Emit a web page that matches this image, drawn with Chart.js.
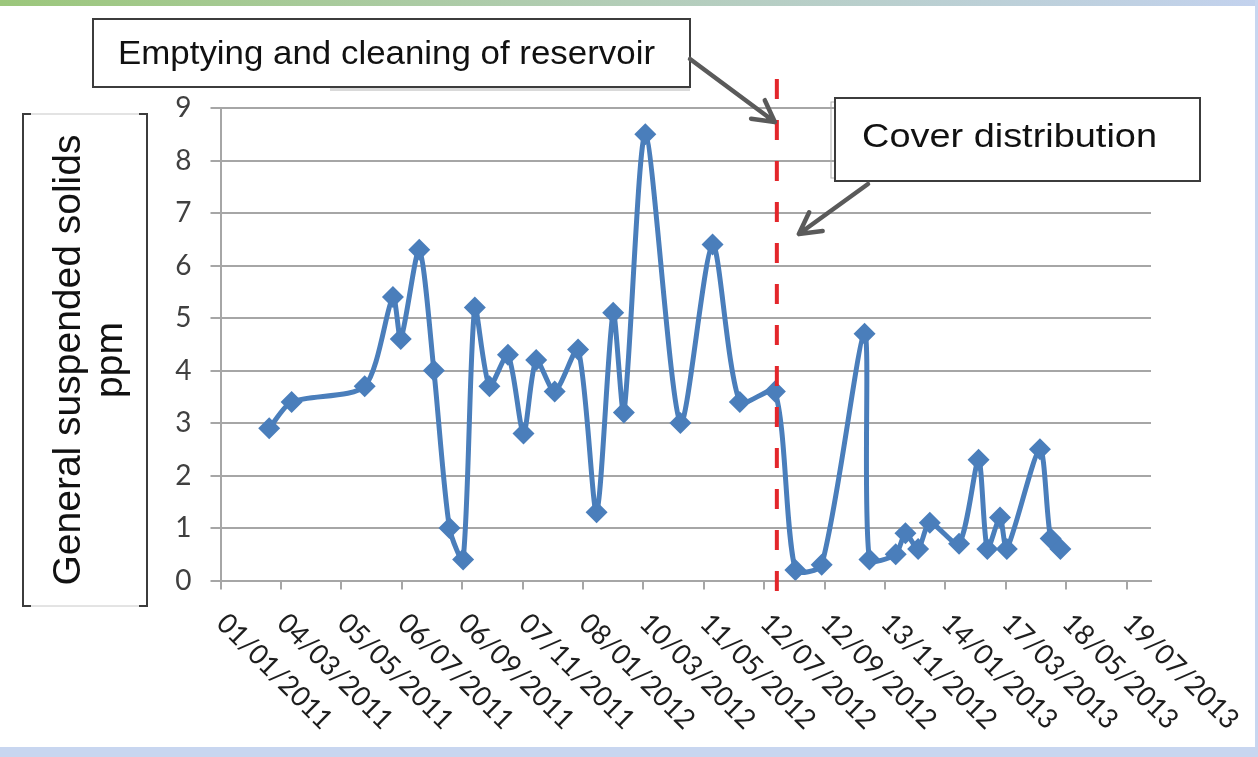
<!DOCTYPE html>
<html>
<head>
<meta charset="utf-8">
<title>General suspended solids</title>
<script src="https://cdn.jsdelivr.net/npm/chart.js@4.4.1/dist/chart.umd.min.js"></script>
<style>
  html, body { margin: 0; padding: 0; background: #ffffff; }
  #chart { display: block; }
</style>
</head>
<body>
<canvas id="chart" width="1258" height="757"></canvas>
<script>
// sampling dates and suspended solids readings (ppm)
const sampleDates = [
    '2011-02-20', '2011-03-15', '2011-05-29', '2011-06-27', '2011-07-05',
    '2011-07-24', '2011-08-08', '2011-08-24', '2011-09-07', '2011-09-19',
    '2011-10-04', '2011-10-23', '2011-11-08', '2011-11-21', '2011-12-10',
    '2012-01-03', '2012-01-22', '2012-02-08', '2012-02-19', '2012-03-12',
    '2012-04-17', '2012-05-20', '2012-06-17', '2012-07-23', '2012-08-13',
    '2012-09-09', '2012-10-23', '2012-10-28', '2012-11-24', '2012-12-04',
    '2012-12-17', '2012-12-29', '2013-01-28', '2013-02-17', '2013-02-26',
    '2013-03-11', '2013-03-18', '2013-04-21', '2013-05-02', '2013-05-12'
];
const gssPpm = [
    2.9, 3.4, 3.7, 5.4, 4.6, 6.3, 4.0, 1.0, 0.4, 5.2,
    3.7, 4.3, 2.8, 4.2, 3.6, 4.4, 1.3, 5.1, 3.2, 8.5,
    3.0, 6.4, 3.4, 3.6, 0.2, 0.3, 4.7, 0.4, 0.5, 0.9,
    0.6, 1.1, 0.7, 2.3, 0.6, 1.2, 0.6, 2.5, 0.8, 0.6
];
const xTickLabels = [
    '01/01/2011', '04/03/2011', '05/05/2011', '06/07/2011', '06/09/2011',
    '07/11/2011', '08/01/2012', '10/03/2012', '11/05/2012', '12/07/2012',
    '12/09/2012', '13/11/2012', '14/01/2013', '17/03/2013', '18/05/2013',
    '19/07/2013'
];
const axisStart = '2011-01-01';
const tickStepDays = 62;
const axisMaxDays = 955;
const yMin = 0, yMax = 9, yStep = 1;
const interventionDate = '2012-07-25';
const yTitle = ['General suspended solids', 'ppm'];
const noteCleaning = 'Emptying and cleaning of reservoir';
const noteCover = 'Cover distribution';

function toDay(s) {
    const p = s.split('-').map(Number);
    const a = axisStart.split('-').map(Number);
    return (Date.UTC(p[0], p[1] - 1, p[2]) - Date.UTC(a[0], a[1] - 1, a[2])) / 86400000;
}

const points = sampleDates.map((d, i) => ({ x: toDay(d), y: gssPpm[i] }));

const blue = '#4a7ebb';
const gridGray = '#a6a6a6';

// text squeezed/stretched to a given length along its baseline
function fitText(ctx, text, x, y, len) {
    const w = ctx.measureText(text).width;
    ctx.save();
    ctx.translate(x, y);
    ctx.scale(len / w, 1);
    ctx.fillText(text, 0, 0);
    ctx.restore();
}

function arrow(ctx, x1, y1, x2, y2) {
    const a = Math.atan2(y2 - y1, x2 - x1);
    const head = 24, spread = 0.5;
    ctx.save();
    ctx.strokeStyle = '#5a5a5a';
    ctx.lineWidth = 4.5;
    ctx.lineCap = 'round';
    ctx.lineJoin = 'round';
    ctx.beginPath();
    ctx.moveTo(x1, y1);
    ctx.lineTo(x2, y2);
    ctx.moveTo(x2 - head * Math.cos(a - spread), y2 - head * Math.sin(a - spread));
    ctx.lineTo(x2, y2);
    ctx.lineTo(x2 - head * Math.cos(a + spread), y2 - head * Math.sin(a + spread));
    ctx.stroke();
    ctx.restore();
}

const decorPlugin = {
    id: 'decor',
    beforeDraw(chart) {
        const ctx = chart.ctx;
        const W = chart.width, H = chart.height;
        ctx.save();
        ctx.fillStyle = '#ffffff';
        ctx.fillRect(0, 0, W, H);
        const g = ctx.createLinearGradient(0, 0, W, 0);
        g.addColorStop(0, '#9cc77c');
        g.addColorStop(0.5, '#b3cdb8');
        g.addColorStop(1, '#c3d2ee');
        ctx.fillStyle = g;
        ctx.fillRect(0, 0, W, 6);
        ctx.fillStyle = '#c8d6f0';
        ctx.fillRect(0, H - 10, W, 10);
        ctx.fillRect(W - 3, 0, 3, H);
        ctx.restore();
    },
    afterDatasetsDraw(chart) {
        const ctx = chart.ctx;
        const x = chart.scales.x.getPixelForValue(toDay(interventionDate));
        ctx.save();
        ctx.strokeStyle = '#e3262b';
        ctx.lineWidth = 4;
        ctx.setLineDash([20, 21]);
        ctx.beginPath();
        ctx.moveTo(x, chart.chartArea.top - 29);
        ctx.lineTo(x, chart.chartArea.bottom + 20);
        ctx.stroke();
        ctx.restore();
    },
    afterDraw(chart) {
        const ctx = chart.ctx;
        const xs = chart.scales.x;
        const area = chart.chartArea;
        const redX = xs.getPixelForValue(toDay(interventionDate));

        // x tick labels, rotated 45deg and hanging from each tick
        ctx.save();
        ctx.fillStyle = '#1e1e1e';
        ctx.font = '28px Lato, "Open Sans", sans-serif';
        ctx.textBaseline = 'middle';
        ctx.textAlign = 'left';
        xs.ticks.forEach((t, i) => {
            if (i >= xTickLabels.length) return;
            const px = xs.getPixelForValue(t.value);
            ctx.save();
            ctx.translate(px + 1, area.bottom + 38);
            ctx.rotate(Math.PI / 4);
            fitText(ctx, xTickLabels[i], 0, 0, 150);
            ctx.restore();
        });
        ctx.restore();

        // y title box
        ctx.save();
        ctx.strokeStyle = '#c8c8c8';
        ctx.lineWidth = 1;
        ctx.strokeRect(23, 114, 124, 492);
        ctx.strokeStyle = '#3c3c3c';
        ctx.lineWidth = 2;
        ctx.beginPath();
        ctx.moveTo(31, 114); ctx.lineTo(23, 114); ctx.lineTo(23, 606); ctx.lineTo(31, 606);
        ctx.moveTo(139, 114); ctx.lineTo(147, 114); ctx.lineTo(147, 606); ctx.lineTo(139, 606);
        ctx.stroke();
        ctx.fillStyle = '#111111';
        ctx.font = '39px "Liberation Sans", Arial, sans-serif';
        ctx.textAlign = 'center';
        ctx.textBaseline = 'alphabetic';
        ctx.translate(80, 360);
        ctx.rotate(-Math.PI / 2);
        ctx.fillText(yTitle[0], 0, 0);
        ctx.fillText(yTitle[1], 0, 42);
        ctx.restore();

        // annotation boxes
        ctx.save();
        ctx.fillStyle = '#d9d9d9';
        ctx.fillRect(330, 87, 360, 4);
        ctx.fillStyle = '#ffffff';
        ctx.fillRect(93, 19, 597, 68);
        ctx.strokeStyle = '#3c3c3c';
        ctx.lineWidth = 2;
        ctx.strokeRect(93, 19, 597, 68);
        ctx.fillStyle = '#111111';
        ctx.font = '33px "Liberation Sans", Arial, sans-serif';
        ctx.textBaseline = 'alphabetic';
        fitText(ctx, noteCleaning, 118, 64, 537);

        ctx.strokeStyle = '#b0b0b0';
        ctx.lineWidth = 1;
        ctx.strokeRect(831, 102, 10, 76);
        ctx.fillStyle = '#ffffff';
        ctx.fillRect(835, 98, 365, 83);
        ctx.strokeStyle = '#3c3c3c';
        ctx.lineWidth = 2;
        ctx.strokeRect(835, 98, 365, 83);
        ctx.fillStyle = '#111111';
        fitText(ctx, noteCover, 862, 147, 295);
        ctx.restore();

        arrow(ctx, 690, 59, redX - 2, 122);
        arrow(ctx, 868, 184, redX + 22, 234);
    }
};

const ctx = document.getElementById('chart').getContext('2d');
new Chart(ctx, {
    type: 'scatter',
    data: {
        datasets: [{
            label: 'General suspended solids (ppm)',
            data: points,
            showLine: true,
            borderColor: blue,
            backgroundColor: blue,
            borderWidth: 5,
            tension: 0.25,
            pointStyle: 'rectRot',
            pointRadius: 11,
            pointBorderWidth: 0,
            pointBackgroundColor: blue
        }]
    },
    options: {
        responsive: false,
        animation: false,
        devicePixelRatio: 1,
        layout: { padding: { top: 108, right: 107, left: 0, bottom: 0 } },
        plugins: {
            legend: { display: false },
            tooltip: { enabled: false }
        },
        scales: {
            x: {
                type: 'linear',
                min: 0,
                max: axisMaxDays,
                afterBuildTicks: (scale) => {
                    scale.ticks = xTickLabels.map((_, i) => ({ value: i * tickStepDays }));
                },
                afterFit: (scale) => { scale.height = 176.5; },
                ticks: { stepSize: tickStepDays, display: false },
                grid: {
                    drawOnChartArea: false,
                    drawTicks: true,
                    tickLength: 9,
                    color: gridGray,
                    lineWidth: 2
                },
                border: { color: gridGray, width: 2 }
            },
            y: {
                min: yMin,
                max: yMax,
                afterFit: (scale) => { scale.width = 220.5; },
                ticks: {
                    stepSize: yStep,
                    padding: 19,
                    color: '#404040',
                    font: { family: 'Lato, "Open Sans", sans-serif', size: 28 }
                },
                grid: {
                    color: gridGray,
                    lineWidth: 2,
                    tickLength: 10
                },
                border: { color: gridGray, width: 2 }
            }
        }
    },
    plugins: [decorPlugin]
});
</script>
</body>
</html>
